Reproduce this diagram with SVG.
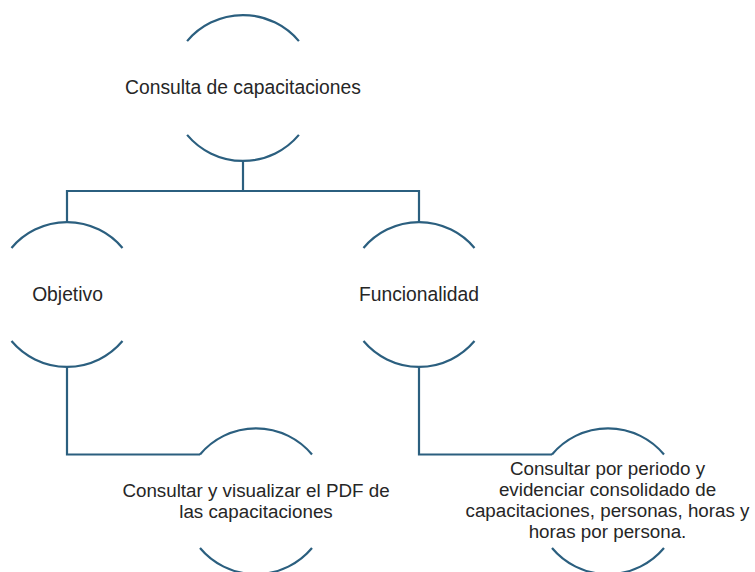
<svg xmlns="http://www.w3.org/2000/svg" width="755" height="572" viewBox="0 0 755 572">
<style>
.arc{fill:none;stroke:#2b5f7f;stroke-width:2.2}
.con{fill:none;stroke:#2b5f7f;stroke-width:2.2}
text{font-family:"Liberation Sans",Arial,sans-serif;font-size:18.8px;fill:#262626;text-anchor:middle}
.big{font-size:19.3px}
</style>
<rect width="755" height="572" fill="#ffffff"/>
<g id="connectors">
<path class="con" d="M243,161 V191"/>
<path class="con" d="M67,222 V191 H419 V222"/>
<path class="con" d="M67,367 V454.5 H200"/>
<path class="con" d="M419,367 V454.5 H552"/>
</g>
<g id="node-consulta">
<path class="arc" d="M187.1,41.1 A73,73 0 0 1 298.9,41.1"/>
<path class="arc" d="M187.1,134.9 A73,73 0 0 0 298.9,134.9"/>
<text class="big" x="243" y="94">Consulta de capacitaciones</text>
</g>
<g id="node-objetivo">
<path class="arc" d="M11.5,248 A72.5,72.5 0 0 1 122.5,248"/>
<path class="arc" d="M11.5,341 A72.5,72.5 0 0 0 122.5,341"/>
<text class="big" x="67.5" y="301">Objetivo</text>
</g>
<g id="node-funcionalidad">
<path class="arc" d="M363.5,248 A72.5,72.5 0 0 1 474.5,248"/>
<path class="arc" d="M363.5,341 A72.5,72.5 0 0 0 474.5,341"/>
<text class="big" x="419" y="301">Funcionalidad</text>
</g>
<g id="node-pdf">
<path class="arc" d="M200,454.5 A73,73 0 0 1 312,454.5"/>
<path class="arc" d="M200,548 A73,73 0 0 0 312,548"/>
<text x="256" y="497">Consultar y visualizar el PDF de</text>
<text x="256" y="518">las capacitaciones</text>
</g>
<g id="node-periodo">
<path class="arc" d="M552,454.5 A73,73 0 0 1 664,454.5"/>
<path class="arc" d="M552,548 A73,73 0 0 0 664,548"/>
<text x="607.5" y="474.5">Consultar por periodo y</text>
<text x="607.5" y="495.5">evidenciar consolidado de</text>
<text x="607.5" y="516.5">capacitaciones, personas, horas y</text>
<text x="607.5" y="537.5">horas por persona.</text>
</g>
</svg>
